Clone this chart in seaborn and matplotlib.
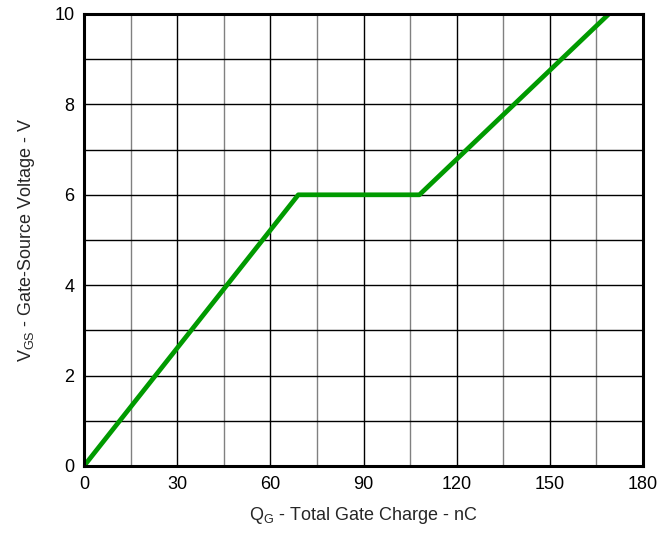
import matplotlib
matplotlib.use("Agg")
import matplotlib.pyplot as plt
import seaborn as sns
import pandas as pd
from matplotlib.ticker import MultipleLocator

# Gate charge curve: V_GS versus total gate charge
charge_nc = [0, 69, 108, 169]
vgs_v = [0, 6, 6, 10]

x_ticks = [0, 30, 60, 90, 120, 150, 180]
y_ticks = [0, 2, 4, 6, 8, 10]

sns.set_theme(style="white")
plt.rcParams["font.family"] = ["Liberation Sans", "DejaVu Sans"]
plt.rcParams["mathtext.fontset"] = "custom"
plt.rcParams["mathtext.rm"] = "Liberation Sans"

df = pd.DataFrame({"Qg": charge_nc, "Vgs": vgs_v})

fig = plt.figure(figsize=(6.62, 5.34), dpi=100)
ax = fig.add_axes([84 / 662, 1 - 466 / 534, (643 - 84) / 662, (466 - 14) / 534])

ax.set_xlim(0, 180)
ax.set_ylim(0, 10)
ax.set_xticks(x_ticks)
ax.set_yticks(y_ticks)
ax.xaxis.set_minor_locator(MultipleLocator(15))
ax.yaxis.set_minor_locator(MultipleLocator(1))

ax.grid(which="major", axis="both", color="black", linewidth=1.0)
ax.grid(which="minor", axis="x", color="#808080", linewidth=1.0)
ax.grid(which="minor", axis="y", color="black", linewidth=1.0)
ax.set_axisbelow(True)

sns.lineplot(data=df, x="Qg", y="Vgs", ax=ax, color="#009a00", linewidth=3.4,
             solid_capstyle="butt")

for s in ax.spines.values():
    s.set_color("black")
    s.set_linewidth(2.2)

ax.tick_params(axis="both", which="both", length=0, labelsize=13, colors="black", pad=7)
ax.set_xticklabels([str(t) for t in x_ticks])
ax.set_yticklabels([str(t) for t in y_ticks])

ax.set_xlabel(r"Q$_{\mathregular{G}}$ - Total Gate Charge - nC", fontsize=13, labelpad=9)
ax.set_ylabel(r"V$_{\mathregular{GS}}$ - Gate-Source Voltage - V", fontsize=13, labelpad=12)

fig.savefig("out.png", dpi=100, facecolor="white")
